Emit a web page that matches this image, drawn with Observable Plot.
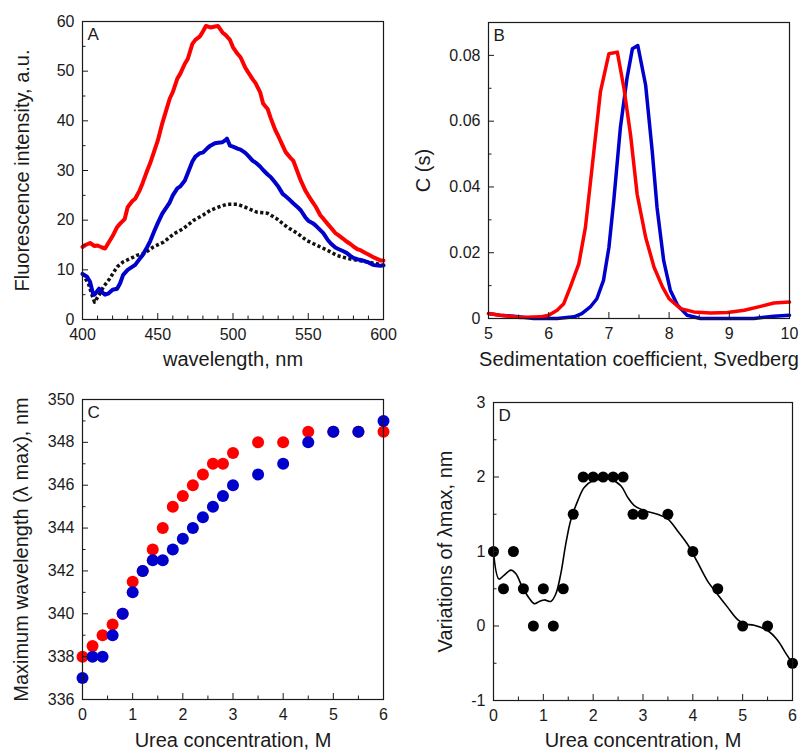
<!DOCTYPE html>
<html><head><meta charset="utf-8">
<script src="https://cdn.jsdelivr.net/npm/d3@7"></script>
<script src="https://cdn.jsdelivr.net/npm/@observablehq/plot@0.6"></script>
<style>
body{margin:0;background:#fff;}
#fig{position:relative;width:802px;height:753px;background:#fff;}
#fig svg{position:absolute;}
</style></head><body><div id="fig"></div>
<script>
// ---------- Panel A: fluorescence spectra ----------
const aRedWl = [400,402,405,408,410,413,415,418,420,423,425,428,430,433,435,438,440,443,445,448,450,453,455,458,460,463,465,468,470,473,475,478,480,482,485,488,490,493,495,498,500,503,505,508,510,513,515,518,520,523,525,528,530,533,535,538,540,543,545,548,550,553,555,558,560,563,565,568,570,573,575,578,580,583,585,588,590,593,595,598,600];
const aRed = [14.6,15.0,15.4,14.8,14.9,14.5,14.3,15.8,16.8,18.6,19.3,20.2,22.6,23.8,24.3,26,27.5,30,31.5,34.2,36,39.5,41.5,44.5,45.8,48.5,49.5,51.5,52.5,55.5,56.3,57,58,59.1,58.8,59,59.1,57.8,57.3,56.3,54.8,53.5,52.8,50.8,49.8,48.4,47.6,45.8,43.5,42.4,40.6,38.2,37,35,33.7,32.6,32,29.6,28,26,25,23.6,22.7,21,20.3,19.2,18.5,17.4,17,16.3,15.8,15.2,14.7,14.1,13.9,13.4,13.1,12.6,12.3,11.9,11.9];
const aBlueWl = [400,403,405,407,408,410,411,413,415,417,420,423,425,427,430,433,435,438,440,443,445,448,450,453,455,458,460,463,465,468,470,473,475,478,480,483,485,488,490,493,495,496,498,500,503,505,508,510,513,515,518,520,523,525,528,530,533,535,538,540,543,545,548,550,553,555,558,560,563,565,568,570,573,575,578,580,583,585,588,590,593,595,598,600];
const aBlue = [9.2,8.6,7.6,5.2,5.0,5.8,6.2,5.5,5.0,5.2,6.0,6.2,7.3,9.0,10.0,10.6,11.0,12.2,13.0,14.6,15.8,18.0,19.4,21.3,22.2,23.6,25.0,26.4,26.8,28.0,29.5,31.8,32.8,33.5,33.6,34.5,35.0,35.5,35.6,35.7,36.1,36.4,35.0,34.8,34.4,34.2,33.6,33.0,32.0,31.6,30.8,30.1,29.2,28.7,27.6,26.8,25.3,24.8,24.0,23.4,22.6,22.0,20.6,19.9,19.4,18.9,18.0,17.4,16.0,15.3,14.5,14.2,13.8,13.5,12.8,12.4,12.1,12.0,11.7,11.5,11.0,10.9,10.8,10.9];
const aBlackWl = [400,404,406,408,411,414,418,423,427,432,436,441,447,454,461,467,474,480,485,490,496,503,509,516,523,529,536,543,549,556,563,569,576,583,589,596,600];
const aBlack = [9.2,7.2,5.2,3.5,4.9,6.6,8.2,10.6,11.6,12.3,12.9,13.3,14.6,15.6,17.3,18.3,20,21,22,22.6,23.2,23.2,22.5,21.6,21.4,20.3,18.6,17.3,15.9,14.9,13.9,12.9,12.3,11.9,11.6,11.2,10.9];
const aXTicks = [400,450,500,550,600];
const aXMinor = [410,420,430,440,460,470,480,490,510,520,530,540,560,570,580,590];
const aYTicks = [0,10,20,30,40,50,60];
const aYMinor = [5,15,25,35,45,55];

// ---------- Panel B: sedimentation ----------
const bRedS = [5.0,5.19,5.53,5.86,6.0,6.14,6.25,6.36,6.5,6.61,6.72,6.86,7.0,7.14,7.25,7.36,7.47,7.61,7.75,7.89,8.0,8.19,8.41,8.69,8.97,9.25,9.52,9.74,10];
const bRed = [0.0015,0.001,0.0003,0.0005,0.001,0.0025,0.0045,0.0096,0.0166,0.0277,0.0458,0.069,0.0805,0.081,0.07,0.0558,0.0377,0.0247,0.0156,0.0096,0.006,0.003,0.002,0.0017,0.0018,0.0025,0.0037,0.0047,0.005];
const bBlueS = [5.0,5.19,5.42,5.75,6.14,6.42,6.55,6.69,6.8,6.91,7.0,7.08,7.19,7.3,7.39,7.48,7.61,7.72,7.8,7.91,8.02,8.14,8.3,8.52,9.08,9.41,9.74,10];
const bBlue = [0.0015,0.001,0.0007,0,0,0.0005,0.0015,0.0035,0.006,0.0116,0.0216,0.0357,0.0579,0.073,0.082,0.083,0.071,0.0508,0.0337,0.0176,0.0086,0.004,0.001,0,0,0,0.0007,0.001];
const bXTicks = [5,6,7,8,9,10];
const bXMinor = [5.5,6.5,7.5,8.5,9.5];
const bYTicks = [0,0.02,0.04,0.06,0.08];
const bYMinor = [0.01,0.03,0.05,0.07];

// ---------- Panel C: lambda max vs urea ----------
const cRedUrea = [0,0.2,0.4,0.6,0.8,1,1.2,1.4,1.6,1.8,2,2.2,2.4,2.6,2.8,3,3.5,4,4.5,5,5.5,6];
const cRed = [338,338.5,339,339.5,340,341.5,342,343,344,345,345.5,346,346.5,347,347,347.5,348,348,348.5,348.5,348.5,348.5];
const cBlueUrea = [0,0.2,0.4,0.6,0.8,1,1.2,1.4,1.6,1.8,2,2.2,2.4,2.6,2.8,3,3.5,4,4.5,5,5.5,6];
const cBlue = [337,338,338,339,340,341,342,342.5,342.5,343,343.5,344,344.5,345,345.5,346,346.5,347,348,348.5,348.5,349];
const cXTicks = [0,1,2,3,4,5,6];
const cXMinor = [0.5,1.5,2.5,3.5,4.5,5.5];
const cYTicks = [336,338,340,342,344,346,348,350];
const cYMinor = [337,339,341,343,345,347,349];

// ---------- Panel D: variations ----------
const dUrea = [0,0.2,0.4,0.6,0.8,1,1.2,1.4,1.6,1.8,2,2.2,2.4,2.6,2.8,3,3.5,4,4.5,5,5.5,6];
const dVar = [1,0.5,1,0.5,0,0.5,0,0.5,1.5,2,2,2,2,2,1.5,1.5,1.5,1,0.5,0,0,-0.5];
const dFitX = [0,0.11,0.21,0.35,0.45,0.58,0.72,0.82,0.92,1.02,1.15,1.25,1.35,1.45,1.55,1.69,1.82,1.99,2.15,2.35,2.56,2.69,2.82,3.02,3.29,3.49,3.69,3.89,4.09,4.29,4.49,4.7,4.9,5.03,5.23,5.5,5.7,5.87,6];
const dFitY = [0.99,0.63,0.68,0.75,0.7,0.52,0.37,0.3,0.33,0.35,0.33,0.43,0.7,1.1,1.42,1.68,1.86,1.95,1.97,1.97,1.88,1.73,1.62,1.55,1.5,1.44,1.28,1.1,0.86,0.61,0.43,0.25,0.085,0.03,0.01,-0.06,-0.19,-0.37,-0.5];
const dXTicks = [0,1,2,3,4,5,6];
const dXMinor = [0.5,1.5,2.5,3.5,4.5,5.5];
const dYTicks = [-1,0,1,2,3];
const dYMinor = [-0.5,0.5,1.5,2.5];

const RED = "#ff0000", BLUE = "#0000cc", INK = "#1a1a1a";
const FONT = "'Liberation Sans', Arial, Helvetica, sans-serif";
const pts = (xs, ys) => xs.map((x, i) => ({x, y: ys[i]}));

function panel(o) {
  const innerW = o.width - o.ml - o.mr;
  const innerH = o.height - o.mt - o.mb;
  const fmtY = o.fmtY || (d => String(d));
  const fmtX = o.fmtX || (d => String(d));
  const marks = [
    ...o.marks,
    Plot.frame({stroke: INK, strokeWidth: 1.2}),
    Plot.ruleX(o.xTicks, {x: d => d, insetTop: innerH - 6, stroke: INK}),
    Plot.ruleX(o.xMinor, {x: d => d, insetTop: innerH - 3.5, stroke: INK}),
    Plot.ruleY(o.yTicks, {y: d => d, insetRight: innerW - 6, stroke: INK}),
    Plot.ruleY(o.yMinor, {y: d => d, insetRight: innerW - 3.5, stroke: INK}),
    Plot.axisX(o.xTicks, {tickSize: 0, tickPadding: 9, label: null, fontSize: 16, tickFormat: fmtX, fill: INK}),
    Plot.axisY(o.yTicks, {tickSize: 0, tickPadding: 8, label: null, fontSize: 16, tickFormat: fmtY, fill: INK}),
    Plot.text([o.xLabel], {text: d => d, frameAnchor: "bottom", dy: o.xLabelDy, lineAnchor: "top", textAnchor: "middle", fontSize: 20, fill: INK}),
    Plot.text([o.yLabel], {text: d => d, frameAnchor: "left", dx: o.yLabelDx, rotate: -90, lineAnchor: "middle", textAnchor: "middle", fontSize: 20, fill: INK}),
    Plot.text([o.letter], {text: d => d, frameAnchor: "top-left", dx: 5, dy: 6, lineAnchor: "top", textAnchor: "start", fontSize: 17, fill: INK})
  ];
  const svg = Plot.plot({
    width: o.width, height: o.height,
    marginLeft: o.ml, marginRight: o.mr, marginTop: o.mt, marginBottom: o.mb,
    x: {domain: o.xDomain, nice: false},
    y: {domain: o.yDomain, nice: false},
    style: {fontFamily: FONT, background: "transparent", overflow: "visible"},
    marks
  });
  svg.style.left = o.left + "px";
  svg.style.top = o.top + "px";
  document.getElementById("fig").appendChild(svg);
}

panel({
  left: 0, top: 0, width: 401, height: 376, ml: 82, mr: 18, mt: 21, mb: 57,
  xDomain: [400, 600], yDomain: [0, 60],
  xTicks: aXTicks, xMinor: aXMinor, yTicks: aYTicks, yMinor: aYMinor,
  xLabel: "wavelength, nm", xLabelDy: 32, yLabel: "Fluorescence intensity, a.u.", yLabelDx: -60, letter: "A",
  marks: [
    Plot.line(pts(aBlackWl, aBlack), {x: "x", y: "y", stroke: "#111", strokeWidth: 3.5, strokeDasharray: "3.2,2.4", strokeLinecap: "butt"}),
    Plot.line(pts(aBlueWl, aBlue), {x: "x", y: "y", stroke: BLUE, strokeWidth: 4, strokeLinejoin: "round"}),
    Plot.line(pts(aRedWl, aRed), {x: "x", y: "y", stroke: RED, strokeWidth: 4, strokeLinejoin: "round"})
  ]
});

panel({
  left: 400, top: 0, width: 402, height: 376, ml: 88, mr: 13, mt: 22, mb: 58,
  xDomain: [5, 10], yDomain: [0, 0.09],
  xTicks: bXTicks, xMinor: bXMinor, yTicks: bYTicks, yMinor: bYMinor,
  fmtY: d => d === 0 ? "0" : d.toFixed(2),
  xLabel: "Sedimentation coefficient, Svedberg", xLabelDy: 33, yLabel: "C (s)", yLabelDx: -65, letter: "B",
  marks: [
    Plot.line(pts(bBlueS, bBlue), {x: "x", y: "y", stroke: BLUE, strokeWidth: 3.5, strokeLinejoin: "round"}),
    Plot.line(pts(bRedS, bRed), {x: "x", y: "y", stroke: RED, strokeWidth: 3.5, strokeLinejoin: "round"})
  ]
});

panel({
  left: 0, top: 376, width: 401, height: 377, ml: 82, mr: 18, mt: 23, mb: 54,
  xDomain: [0, 6], yDomain: [336, 350],
  xTicks: cXTicks, xMinor: cXMinor, yTicks: cYTicks, yMinor: cYMinor,
  xLabel: "Urea concentration, M", xLabelDy: 33, yLabel: "Maximum wavelength (λ max), nm", yLabelDx: -61, letter: "C",
  marks: [
    Plot.dot(pts(cRedUrea, cRed), {x: "x", y: "y", r: 6, fill: RED, stroke: "none"}),
    Plot.dot(pts(cBlueUrea, cBlue), {x: "x", y: "y", r: 6, fill: BLUE, stroke: "none"})
  ]
});

panel({
  left: 400, top: 376, width: 402, height: 377, ml: 93, mr: 10, mt: 26, mb: 53,
  xDomain: [0, 6], yDomain: [-1, 3],
  xTicks: dXTicks, xMinor: dXMinor, yTicks: dYTicks, yMinor: dYMinor,
  xLabel: "Urea concentration, M", xLabelDy: 32, yLabel: "Variations of λmax, nm", yLabelDx: -48, letter: "D",
  marks: [
    Plot.line(pts(dFitX, dFitY), {x: "x", y: "y", curve: "catmull-rom", stroke: "#000", strokeWidth: 1.6}),
    Plot.dot(pts(dUrea, dVar), {x: "x", y: "y", r: 5.5, fill: "#000", stroke: "none"})
  ]
});
</script></body></html>
